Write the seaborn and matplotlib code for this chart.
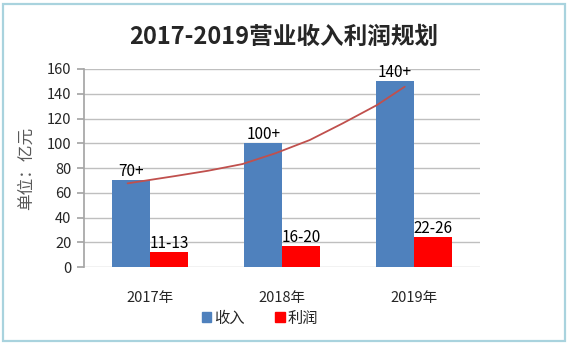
import matplotlib
matplotlib.use("Agg")
import matplotlib.pyplot as plt
import seaborn as sns
import pandas as pd
from matplotlib.patches import Rectangle, Patch

years = ["2017年", "2018年", "2019年"]
revenue = [70, 100, 150]
profit = [12, 17, 24]
revenue_labels = ["70+", "100+", "140+"]
profit_labels = ["11-13", "16-20", "22-26"]
series_names = ["收入", "利润"]
trend_x = [-0.17, 0.19, 0.44, 0.70, 0.95, 1.21, 1.46, 1.72, 1.93]
trend_y = [67.6, 73.5, 77.8, 83.2, 91.9, 102.6, 116.1, 130.9, 145.7]
y_ticks = [0, 20, 40, 60, 80, 100, 120, 140, 160]

sns.set_theme(style="white")
plt.rcParams["font.family"] = ["Noto Sans CJK SC", "DejaVu Sans"]

df = pd.DataFrame({
    "year": years * 2,
    "value": revenue + profit,
    "series": [series_names[0]] * 3 + [series_names[1]] * 3,
})

fig = plt.figure(figsize=(5.68, 3.45), dpi=100)
ax = fig.add_axes([0.148, 0.226, 0.697, 0.574])

sns.barplot(data=df, x="year", y="value", hue="series",
            palette=["#4F81BD", "#FF0000"], width=0.57, ax=ax,
            saturation=1, legend=False, zorder=3, linewidth=0,
            edgecolor="none")

ax.bar_label(ax.containers[0], labels=revenue_labels, fontsize=11,
             padding=0, color="black")
ax.bar_label(ax.containers[1], labels=profit_labels, fontsize=11,
             padding=0, color="black")

ax.plot(trend_x, trend_y, color="#C0504D", lw=1.3, zorder=4)

ax.set_xlim(-0.5, 2.5)
ax.set_ylim(0, 160)
ax.set_yticks(y_ticks)
ax.yaxis.grid(True, color="#BFBFBF", lw=1, zorder=0)
ax.set_axisbelow(True)
for s in ["top", "right", "bottom"]:
    ax.spines[s].set_visible(False)
ax.spines["left"].set_color("#A6A6A6")
ax.tick_params(axis="y", which="both", left=True, length=5, color="#A6A6A6",
               labelsize=10.5, pad=4)
ax.tick_params(axis="x", bottom=False, labelsize=10.5, pad=11)
ax.set_xlabel("")
ax.set_ylabel("单位：亿元", fontsize=12, color="#595959", labelpad=9)

handles = [Patch(color="#4F81BD", label=series_names[0]),
           Patch(color="#FF0000", label=series_names[1])]
fig.legend(handles=handles, loc="center", bbox_to_anchor=(0.458, 0.078),
           ncol=2, frameon=False, fontsize=11, handlelength=0.6,
           handleheight=0.6, handletextpad=0.2, columnspacing=2.0)

fig.text(0.5, 0.893, "2017-2019营业收入利润规划", ha="center", va="center",
         fontsize=17, fontweight="bold")

fig.patches.append(Rectangle((0.006, 0.012), 0.988, 0.975,
                             transform=fig.transFigure, fill=False,
                             edgecolor="#A9D3DE", lw=1.6))

fig.savefig("out.png", dpi=100)
